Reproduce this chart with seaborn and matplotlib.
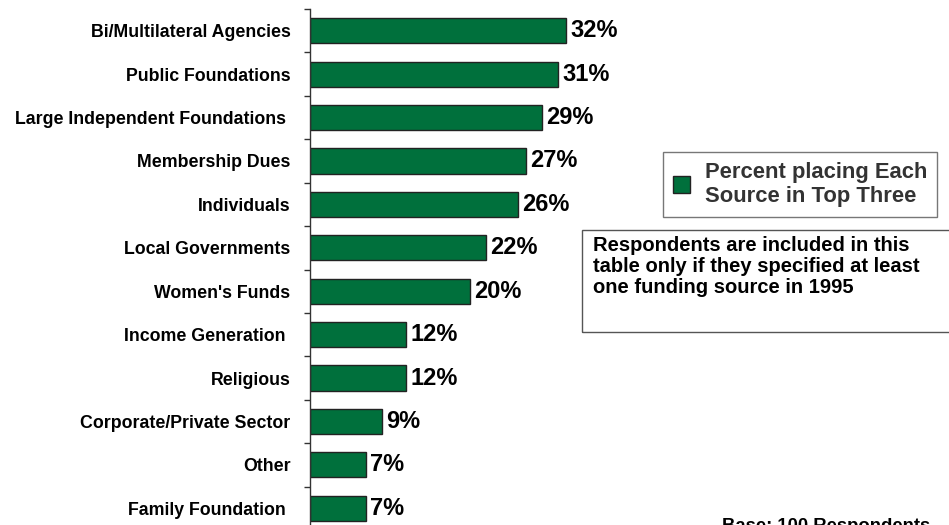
import matplotlib
matplotlib.use("Agg")
import matplotlib.pyplot as plt
from matplotlib.patches import Rectangle
from matplotlib.ticker import FixedLocator
import pandas as pd
import seaborn as sns

# Funding sources and share of respondents ranking each in their top three
sources = [
    "Bi/Multilateral Agencies",
    "Public Foundations",
    "Large Independent Foundations ",
    "Membership Dues",
    "Individuals",
    "Local Governments",
    "Women's Funds",
    "Income Generation ",
    "Religious",
    "Corporate/Private Sector",
    "Other",
    "Family Foundation ",
]
percent_top_three = [32, 31, 29, 27, 26, 22, 20, 12, 12, 9, 7, 7]
legend_label = "Percent placing Each\nSource in Top Three"
note_text = "Respondents are included in this\ntable only if they specified at least\none funding source in 1995"
base_text = "Base: 100 Respondents"

df = pd.DataFrame({"source": sources, "percent": percent_top_three})

sns.set_theme(style="white")
plt.rcParams["font.family"] = ["Liberation Sans", "DejaVu Sans"]

W, H = 949, 525
fig = plt.figure(figsize=(W / 100, H / 100), dpi=100)
ax = fig.add_axes([310 / W, (H - 530) / H, 640 / W, 521 / H])

green = "#00703C"
sns.barplot(
    data=df, x="percent", y="source", orient="h", ax=ax,
    color=green, saturation=1, width=0.58,
    edgecolor="#222222", linewidth=1.0, label=legend_label,
)

ax.set_xlim(0, 80)
ax.set_ylim(len(sources) - 0.5, -0.5)
ax.set_xlabel("")
ax.set_ylabel("")
ax.set_xticks([])

for s in ["top", "right", "bottom"]:
    ax.spines[s].set_visible(False)
ax.spines["left"].set_color("#333333")
ax.spines["left"].set_linewidth(1.0)

# category names centred on the bars, tick marks between the bars
ax.tick_params(axis="y", which="major", length=0, pad=14)
ax.yaxis.set_minor_locator(FixedLocator([i - 0.5 for i in range(len(sources) + 1)]))
ax.tick_params(axis="y", which="minor", left=True, length=4, width=1, color="#333333")
for lbl in ax.get_yticklabels():
    lbl.set_fontsize(12.8)
    lbl.set_fontweight("bold")
    lbl.set_color("black")

for container in ax.containers:
    ax.bar_label(container, labels=[f"{v}%" for v in percent_top_three],
                 padding=3, fontsize=17, fontweight="bold", color="black")

leg = ax.legend(
    loc="upper left", bbox_to_anchor=(663 / W, 1 - 152 / H),
    bbox_transform=fig.transFigure, borderaxespad=0,
    fontsize=15.8, frameon=True, fancybox=False,
    handlelength=0.8, handleheight=0.8, handletextpad=0.65,
    borderpad=0.45, labelspacing=0.2,
)
leg.get_frame().set_edgecolor("#555555")
leg.get_frame().set_linewidth(1.0)
for t in leg.get_texts():
    t.set_fontweight("bold")
    t.set_color("#333333")
    t.set_linespacing(1.2)

fig.patches.append(Rectangle((582 / W, 1 - 332 / H), 370 / W, 102 / H,
                             transform=fig.transFigure, fill=False,
                             edgecolor="#555555", linewidth=1.0))
fig.text(593 / W, 1 - 236 / H, note_text, ha="left", va="top",
         fontsize=14.5, fontweight="bold", color="black", linespacing=1.12)

# respondent base sits on the lower edge of the page
fig.text(722 / W, 1 - 518 / H, base_text, ha="left", va="top",
         fontsize=13.3, fontweight="bold", color="black")

fig.savefig("out.png", dpi=100)
